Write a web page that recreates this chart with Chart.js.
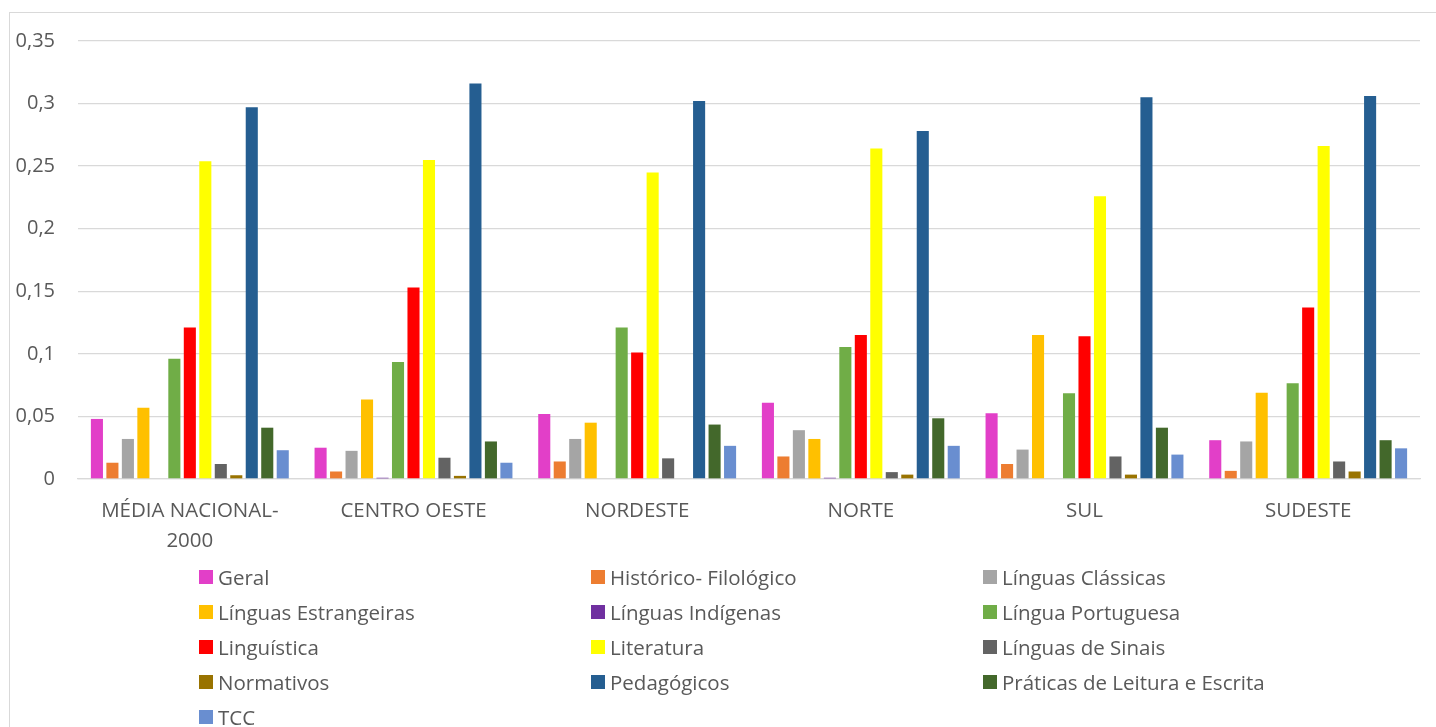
<!DOCTYPE html>
<html>
<head>
<meta charset="utf-8">
<script src="https://cdn.jsdelivr.net/npm/chart.js@4"></script>
<style>
    body {
        margin: 0;
        background: #ffffff;
        width: 1436px;
        height: 727px;
        overflow: hidden;
        position: relative;
        font-family: "Open Sans", sans-serif;
    }
    #frame {
        position: absolute;
        left: 9px;
        top: 12px;
        width: 1440px;
        height: 730px;
        border: 1px solid #d9d9d9;
        box-sizing: border-box;
    }
    #chart_box {
        position: absolute;
        left: 0;
        top: 0;
        width: 1436px;
        height: 560px;
    }
    #legend {
        position: absolute;
        left: 199px;
        top: 559px;
        display: grid;
        grid-template-columns: 392px 392px 392px;
        grid-auto-rows: 35px;
        font-size: 20.5px;
        color: #595959;
    }
    .legend_item {
        display: flex;
        align-items: center;
        white-space: nowrap;
    }
    .legend_box {
        width: 14px;
        height: 14px;
        margin-right: 5px;
        flex: none;
    }
</style>
</head>
<body>
<div id="frame"></div>
<div id="chart_box"><canvas id="regionChart"></canvas></div>
<div id="legend"></div>
<script>
const regions = [['MÉDIA NACIONAL-', '2000'], 'CENTRO OESTE', 'NORDESTE', 'NORTE', 'SUL', 'SUDESTE'];

const series_names = [
    'Geral', 'Histórico- Filológico', 'Línguas Clássicas',
    'Línguas Estrangeiras', 'Línguas Indígenas', 'Língua Portuguesa',
    'Linguística', 'Literatura', 'Línguas de Sinais',
    'Normativos', 'Pedagógicos', 'Práticas de Leitura e Escrita',
    'TCC'
];

const series_colors = [
    '#e23fc8', '#ed7d31', '#a5a5a5',
    '#ffc000', '#7030a0', '#70ad47',
    '#ff0000', '#ffff00', '#636363',
    '#997300', '#255e91', '#43682b',
    '#698ed0'
];

// one value per region, same order as regions
const geral = [0.048, 0.025, 0.052, 0.061, 0.0525, 0.031];
const historico = [0.013, 0.006, 0.014, 0.018, 0.012, 0.0065];
const classicas = [0.032, 0.0225, 0.032, 0.039, 0.0235, 0.030];
const estrangeiras = [0.057, 0.0635, 0.045, 0.032, 0.115, 0.069];
const indigenas = [0.0005, 0.001, 0, 0.001, 0, 0];
const portuguesa = [0.096, 0.0935, 0.121, 0.1055, 0.0685, 0.0765];
const linguistica = [0.121, 0.153, 0.101, 0.115, 0.114, 0.137];
const literatura = [0.254, 0.255, 0.245, 0.264, 0.226, 0.266];
const sinais = [0.012, 0.017, 0.0165, 0.0055, 0.018, 0.014];
const normativos = [0.003, 0.0025, 0, 0.0035, 0.0035, 0.006];
const pedagogicos = [0.297, 0.316, 0.302, 0.278, 0.305, 0.306];
const praticas = [0.041, 0.030, 0.0435, 0.0485, 0.041, 0.031];
const tcc = [0.023, 0.013, 0.0265, 0.0265, 0.0195, 0.0245];

const y_ticks = [0, 0.05, 0.1, 0.15, 0.2, 0.25, 0.3, 0.35];

const series_values = [
    geral, historico, classicas, estrangeiras, indigenas, portuguesa,
    linguistica, literatura, sinais, normativos, pedagogicos, praticas, tcc
];

const text_color = '#595959';
const grid_color = '#d9d9d9';

const datasets = series_names.map((name, i) => ({
    label: name,
    data: series_values[i],
    backgroundColor: series_colors[i],
    borderWidth: 0,
    categoryPercentage: 0.9,
    barPercentage: 0.78
}));

const ctx = document.getElementById('regionChart').getContext('2d');
const regionChart = new Chart(ctx, {
    type: 'bar',
    data: {
        labels: regions,
        datasets: datasets
    },
    options: {
        responsive: true,
        maintainAspectRatio: false,
        animation: false,
        layout: {
            padding: { left: 0, right: 16, top: 41, bottom: 0 }
        },
        plugins: {
            legend: { display: false },
            tooltip: { enabled: false }
        },
        scales: {
            x: {
                grid: { display: false },
                border: { display: true, color: grid_color, width: 1.3 },
                ticks: {
                    color: text_color,
                    font: { family: 'Open Sans', size: 20.5, lineHeight: 1.42 },
                    padding: 10,
                    maxRotation: 0,
                    autoSkip: false
                },
                afterFit: (scale) => { scale.height = 81; }
            },
            y: {
                min: 0,
                max: 0.35,
                afterBuildTicks: (scale) => {
                    scale.ticks = y_ticks.map(v => ({ value: v }));
                },
                grid: {
                    color: grid_color,
                    lineWidth: 1.3,
                    drawTicks: false
                },
                border: { display: false },
                ticks: {
                    color: text_color,
                    font: { family: 'Open Sans', size: 20 },
                    padding: 23,
                    callback: (v) => String(Math.round(v * 100) / 100).replace('.', ',')
                },
                afterFit: (scale) => { scale.width = 78; }
            }
        }
    }
});

// legend in three columns, built from the same names and colours
const legend = document.getElementById('legend');
series_names.forEach((name, i) => {
    const item = document.createElement('div');
    item.className = 'legend_item';
    item.innerHTML = `<span class="legend_box" style="background:${series_colors[i]}"></span>${name}`;
    legend.appendChild(item);
});
</script>
</body>
</html>
